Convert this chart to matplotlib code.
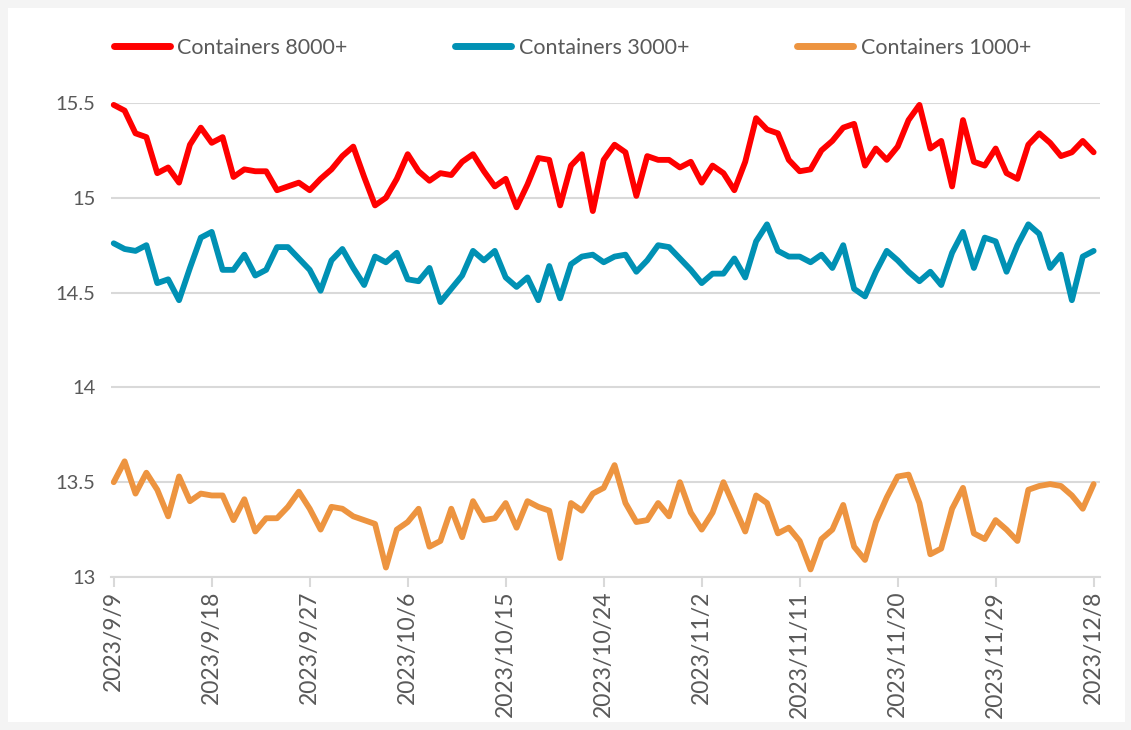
"""Container line daily index, 2023/9/9 - 2023/12/8."""

import matplotlib
matplotlib.use("Agg")
import matplotlib.pyplot as plt
from matplotlib.patches import Rectangle
import pandas as pd

plt.rcParams["font.family"] = ["Lato", "DejaVu Sans"]

START = "2023-09-09"
N_DAYS = 91

series_names = ["Containers 8000+", "Containers 3000+", "Containers 1000+"]

c8000 = [15.49, 15.46, 15.34, 15.32, 15.13, 15.16, 15.08, 15.28, 15.37, 15.29,
         15.32, 15.11, 15.15, 15.14, 15.14, 15.04, 15.06, 15.08, 15.04, 15.10,
         15.15, 15.22, 15.27, 15.11, 14.96, 15.00, 15.10, 15.23, 15.14, 15.09,
         15.13, 15.12, 15.19, 15.23, 15.14, 15.06, 15.10, 14.95, 15.07, 15.21,
         15.20, 14.96, 15.17, 15.23, 14.93, 15.20, 15.28, 15.24, 15.01, 15.22,
         15.20, 15.20, 15.16, 15.19, 15.08, 15.17, 15.13, 15.04, 15.19, 15.42,
         15.36, 15.34, 15.20, 15.14, 15.15, 15.25, 15.30, 15.37, 15.39, 15.17,
         15.26, 15.20, 15.27, 15.41, 15.49, 15.26, 15.30, 15.06, 15.41, 15.19,
         15.17, 15.26, 15.13, 15.10, 15.28, 15.34, 15.29, 15.22, 15.24, 15.30,
         15.24]

c3000 = [14.76, 14.73, 14.72, 14.75, 14.55, 14.57, 14.46, 14.63, 14.79, 14.82,
         14.62, 14.62, 14.70, 14.59, 14.62, 14.74, 14.74, 14.68, 14.62, 14.51,
         14.67, 14.73, 14.63, 14.54, 14.69, 14.66, 14.71, 14.57, 14.56, 14.63,
         14.45, 14.52, 14.59, 14.72, 14.67, 14.72, 14.58, 14.53, 14.58, 14.46,
         14.64, 14.47, 14.65, 14.69, 14.70, 14.66, 14.69, 14.70, 14.61, 14.67,
         14.75, 14.74, 14.68, 14.62, 14.55, 14.60, 14.60, 14.68, 14.58, 14.77,
         14.86, 14.72, 14.69, 14.69, 14.66, 14.70, 14.63, 14.75, 14.52, 14.48,
         14.61, 14.72, 14.67, 14.61, 14.56, 14.61, 14.54, 14.71, 14.82, 14.63,
         14.79, 14.77, 14.61, 14.75, 14.86, 14.81, 14.63, 14.70, 14.46, 14.69,
         14.72]

c1000 = [13.50, 13.61, 13.44, 13.55, 13.46, 13.32, 13.53, 13.40, 13.44, 13.43,
         13.43, 13.30, 13.41, 13.24, 13.31, 13.31, 13.37, 13.45, 13.36, 13.25,
         13.37, 13.36, 13.32, 13.30, 13.28, 13.05, 13.25, 13.29, 13.36, 13.16,
         13.19, 13.36, 13.21, 13.40, 13.30, 13.31, 13.39, 13.26, 13.40, 13.37,
         13.35, 13.10, 13.39, 13.35, 13.44, 13.47, 13.59, 13.39, 13.29, 13.30,
         13.39, 13.32, 13.50, 13.34, 13.25, 13.34, 13.50, 13.37, 13.24, 13.43,
         13.39, 13.23, 13.26, 13.19, 13.04, 13.20, 13.25, 13.38, 13.16, 13.09,
         13.29, 13.42, 13.53, 13.54, 13.39, 13.12, 13.15, 13.36, 13.47, 13.23,
         13.20, 13.30, 13.25, 13.19, 13.46, 13.48, 13.49, 13.48, 13.43, 13.36,
         13.49]

y_ticks = [13, 13.5, 14, 14.5, 15, 15.5]
y_labels = ["13", "13.5", "14", "14.5", "15", "15.5"]

colors = ["#FF0000", "#0091B4", "#ED9440"]
GRID = "#D9D9D9"
TXT = "#595959"

dates = pd.date_range(START, periods=N_DAYS, freq="D")

fig = plt.figure(figsize=(11.31, 7.30), dpi=100, facecolor="#F4F4F4")
# white chart area inside a thin grey frame
fig.patches.append(Rectangle((8 / 1131, 8 / 730), 1117 / 1131, 714 / 730,
                             transform=fig.transFigure, facecolor="white",
                             edgecolor="none", zorder=-10))

ax = fig.add_axes([111 / 1131, 153 / 730, 989 / 1131, 474 / 730])
ax.set_facecolor("none")

for vals, name, col in zip([c8000, c3000, c1000], series_names, colors):
    ax.plot(dates, vals, color=col, lw=4.2, label=name,
            solid_joinstyle="round", solid_capstyle="round", clip_on=False, zorder=3)

ax.set_ylim(13, 15.5)
ax.set_xlim(dates[0] - pd.Timedelta(hours=6), dates[-1] + pd.Timedelta(hours=14))
ax.set_yticks(y_ticks)
ax.set_yticklabels(y_labels)
ax.grid(axis="y", color=GRID, lw=1.5)
ax.set_axisbelow(True)

tick_dates = dates[::9]
ax.set_xticks(tick_dates)
ax.set_xticklabels([f"{d.year}/{d.month}/{d.day}" for d in tick_dates], rotation=90)

for s in ["top", "right", "left"]:
    ax.spines[s].set_visible(False)
ax.spines["bottom"].set_color(GRID)
ax.spines["bottom"].set_linewidth(1.5)
ax.tick_params(axis="x", colors=GRID, length=7, width=1.5, labelcolor=TXT,
               labelsize=16.5, pad=3)
ax.tick_params(axis="y", length=0, labelcolor=TXT, labelsize=14.5, pad=11)

leg = ax.legend(loc="center left", bbox_to_anchor=(0.003, 1.116), ncol=3, frameon=False,
                fontsize=15.5, handlelength=2.6, columnspacing=5.0, handletextpad=0.35,
                borderaxespad=0, borderpad=0)
for t in leg.get_texts():
    t.set_color(TXT)
for h in leg.get_lines():
    h.set_linewidth(5)

fig.savefig("out.png", dpi=100, facecolor=fig.get_facecolor())
